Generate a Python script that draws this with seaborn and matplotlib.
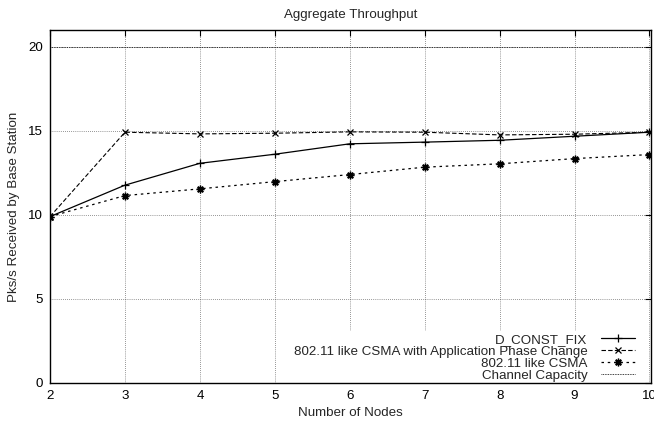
"""
Aggregate throughput vs number of nodes (gnuplot-style line chart)
"""

import matplotlib
matplotlib.use("Agg")
import matplotlib.pyplot as plt
import seaborn as sns
import pandas as pd

# Data
nodes = [2, 3, 4, 5, 6, 7, 8, 9, 10]
d_const_fix = [9.9, 11.77, 13.07, 13.61, 14.23, 14.33, 14.44, 14.68, 14.92]
csma_phase_change = [9.9, 14.92, 14.82, 14.86, 14.94, 14.92, 14.76, 14.8, 14.92]
csma = [9.9, 11.15, 11.55, 11.98, 12.4, 12.84, 13.04, 13.35, 13.59]
channel_capacity = [20, 20, 20, 20, 20, 20, 20, 20, 20]

series_names = [
    "D_CONST_FIX",
    "802.11 like CSMA with Application Phase Change",
    "802.11 like CSMA",
    "Channel Capacity",
]
x_ticks = [2, 3, 4, 5, 6, 7, 8, 9, 10]
y_ticks = [0, 5, 10, 15, 20]

sns.set_style("white")
plt.rcParams["font.family"] = ["Liberation Sans", "DejaVu Sans"]
FS = 9.6

df = pd.DataFrame({
    "nodes": nodes * 4,
    "value": d_const_fix + csma_phase_change + csma + channel_capacity,
    "series": [s for s in series_names for _ in nodes],
})

fig = plt.figure(figsize=(6.54, 4.21), dpi=100)
ax = fig.add_axes([0.0765, 0.0903, 0.9189, 0.8384])

styles = {
    "D_CONST_FIX": dict(ls="-", marker="+", lw=0.9, ms=6, mew=0.9),
    "802.11 like CSMA with Application Phase Change": dict(ls=(0, (4, 2)), marker="x", lw=0.8, ms=4.5, mew=0.9),
    "802.11 like CSMA": dict(ls=(0, (2, 3)), marker=(8, 2, 0), lw=0.9, ms=5.5, mew=1.0),
    "Channel Capacity": dict(ls=(0, (1, 1)), marker=None, lw=0.6),
}

for name in series_names:
    sub = df[df["series"] == name]
    sns.lineplot(data=sub, x="nodes", y="value", ax=ax, color="black",
                 markeredgecolor="black", markerfacecolor="black",
                 label=name, zorder=3, **styles[name])

# gnuplot-like dotted grid
ax.grid(True, color="black", linestyle=(0, (1, 2)), linewidth=0.5, alpha=0.8)
ax.set_axisbelow(True)

ax.set_xlim(2, 10.02)
ax.set_ylim(0, 21)
ax.set_xticks(x_ticks)
ax.set_yticks(y_ticks)
ax.tick_params(direction="in", length=4, width=0.8, top=True, right=True,
               labelsize=FS, pad=5, colors="black")
for sp in ax.spines.values():
    sp.set_color("black")
    sp.set_linewidth(1.0)

ax.set_title("Aggregate Throughput", fontsize=FS, pad=9)
ax.set_xlabel("Number of Nodes", fontsize=FS, labelpad=4)
ax.set_ylabel("Pks/s Received by Base Station", fontsize=FS, labelpad=6)

leg = ax.legend(loc="lower right", bbox_to_anchor=(0.977, -0.004),
                markerfirst=False, frameon=True,
                fontsize=FS, handlelength=2.55, handletextpad=0.97,
                labelspacing=-0.03, borderpad=0.2, borderaxespad=0.0,
                facecolor="white", framealpha=1.0, edgecolor="white",
                fancybox=False)
for t in leg.get_texts():
    t.set_ha("right")
leg._legend_box.align = "right"
leg.set_zorder(2)

fig.savefig("out.png", dpi=100)
